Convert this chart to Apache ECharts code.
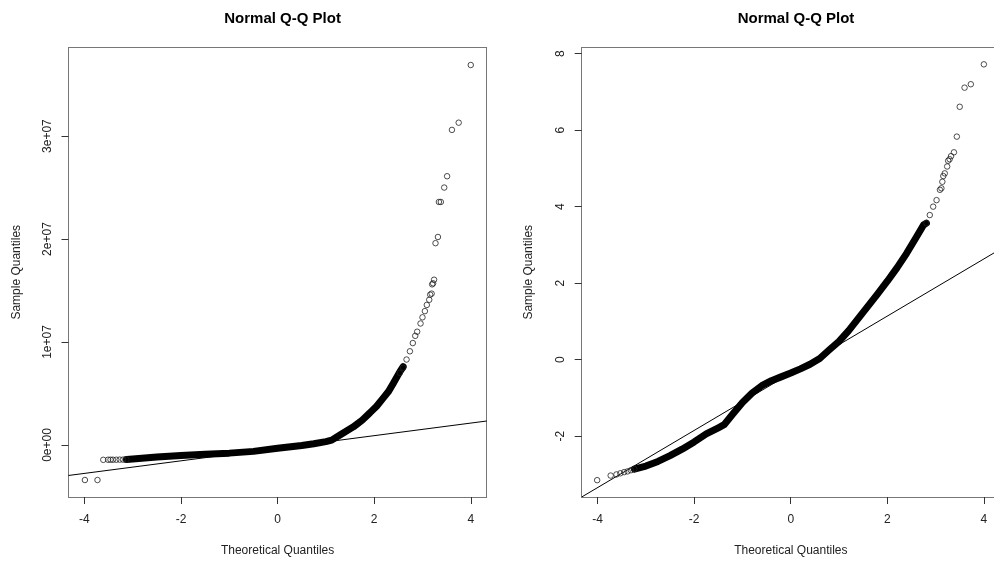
<!DOCTYPE html>
<html style="height: 100%">
<head>
    <meta charset="utf-8">
    <script src="https://cdn.jsdelivr.net/npm/echarts@6/dist/echarts.min.js"></script>
</head>
<body style="height: 100%; margin: 0; background: #fff">
<div id="container" style="width: 994px; height: 562px"></div>
<script type="text/javascript">
    // tick positions / labels
    var xTicks = [-4, -2, 0, 2, 4];
    var leftYTicks = [0, 1e7, 2e7, 3e7];
    var leftYLabels = ['0e+00', '1e+07', '2e+07', '3e+07'];
    var rightYTicks = [-2, 0, 2, 4, 6, 8];

    // left panel: individual circles (theoretical, sample)
    var leftPoints = [
        [-3.99, -3.40e6], [-3.73, -3.40e6], [-3.61, -1.44e6], [-3.51, -1.43e6], [-3.46, -1.43e6],
        [-3.41, -1.43e6], [-3.34, -1.43e6], [-3.27, -1.42e6], [-3.20, -1.42e6], [-3.13, -1.41e6],
        [2.53, 7.0e6], [2.60, 7.5e6], [2.67, 8.3e6], [2.74, 9.1e6], [2.80, 9.9e6], [2.85, 10.6e6],
        [2.89, 11.0e6], [2.96, 11.8e6], [3.00, 12.4e6], [3.05, 13.0e6], [3.09, 13.6e6], [3.14, 14.1e6],
        [3.16, 14.6e6], [3.19, 14.7e6], [3.20, 15.6e6], [3.22, 15.7e6], [3.24, 16.05e6], [3.27, 19.6e6],
        [3.32, 20.2e6], [3.34, 23.6e6], [3.38, 23.6e6], [3.45, 25.0e6], [3.51, 26.1e6], [3.61, 30.6e6],
        [3.75, 31.3e6], [4.00, 36.9e6]
    ];
    // left panel: the solid band where circles overlap
    var leftBand = [
        [-3.13, -1.41e6], [-3.0, -1.37e6], [-2.5, -1.17e6], [-2.0, -1.01e6], [-1.5, -0.89e6],
        [-1.0, -0.79e6], [-0.5, -0.62e6], [0, -0.32e6], [0.5, -0.05e6], [0.75, 0.12e6], [1.0, 0.33e6],
        [1.12, 0.47e6], [1.3, 1.0e6], [1.57, 1.76e6], [1.75, 2.41e6], [1.91, 3.12e6], [2.05, 3.77e6],
        [2.19, 4.58e6], [2.30, 5.22e6], [2.40, 6.03e6], [2.53, 7.1e6], [2.6, 7.6e6]
    ];
    var leftLine = [[-4.33, -2.96e6], [4.33, 2.33e6]];

    // right panel
    var rightPoints = [
        [-4.01, -3.15], [-3.73, -3.03], [-3.61, -3.00], [-3.53, -2.97], [-3.45, -2.94], [-3.38, -2.92],
        [-3.31, -2.89], [-3.24, -2.86],
        [2.81, 3.57], [2.88, 3.78], [2.95, 4.00], [3.02, 4.17], [3.09, 4.44], [3.12, 4.48], [3.14, 4.65],
        [3.16, 4.80], [3.19, 4.87], [3.24, 5.05], [3.26, 5.20], [3.29, 5.24], [3.32, 5.32], [3.38, 5.42],
        [3.44, 5.83], [3.50, 6.61], [3.60, 7.11], [3.73, 7.20], [4.00, 7.72]
    ];
    var rightBand = [
        [-3.24, -2.86], [-3.0, -2.78], [-2.75, -2.66], [-2.5, -2.51], [-2.25, -2.34], [-2.0, -2.15],
        [-1.75, -1.94], [-1.5, -1.78], [-1.38, -1.70], [-1.2, -1.42], [-1.0, -1.12], [-0.8, -0.87],
        [-0.6, -0.68], [-0.4, -0.55], [-0.2, -0.45], [0, -0.35], [0.2, -0.24], [0.4, -0.12], [0.6, 0.03],
        [0.8, 0.26], [1.0, 0.48], [1.2, 0.76], [1.4, 1.08], [1.6, 1.40], [1.8, 1.72], [2.0, 2.05],
        [2.2, 2.40], [2.4, 2.78], [2.6, 3.20], [2.75, 3.52], [2.81, 3.57]
    ];
    var rightLine = [[-4.33, -3.59], [4.21, 2.79]];

    var font = '"Liberation Sans", Arial, sans-serif';
    var txt = '#222';
    var boxColor = '#777';

    function xAxisOpt(idx, max, namePad) {
        return {
            gridIndex: idx, type: 'value', min: -4.33, max: max,
            name: 'Theoretical Quantiles', nameLocation: 'middle', nameGap: 48,
            nameTextStyle: {fontFamily: font, fontSize: 12, color: txt, padding: namePad},
            splitLine: {show: false},
            axisLine: {show: true, onZero: false, lineStyle: {color: boxColor, width: 1}},
            axisTick: {show: true, length: 7, customValues: xTicks, lineStyle: {color: '#333'}},
            axisLabel: {customValues: xTicks, margin: 17, fontFamily: font, fontSize: 12, color: txt}
        };
    }
    function yAxisOpt(idx, min, max, ticks, fmt, gap) {
        return {
            gridIndex: idx, type: 'value', min: min, max: max,
            name: 'Sample Quantiles', nameLocation: 'middle', nameGap: gap, nameRotate: 90,
            nameTextStyle: {fontFamily: font, fontSize: 12, color: txt},
            splitLine: {show: false},
            axisLine: {show: true, onZero: false, lineStyle: {color: boxColor, width: 1}},
            axisTick: {show: true, length: 7, customValues: ticks, lineStyle: {color: '#333'}},
            axisLabel: {customValues: ticks, rotate: 90, margin: 15, fontFamily: font, fontSize: 12,
                color: txt, formatter: fmt}
        };
    }
    // top / right edges of the box
    function edgeAxis(idx, position, min, max) {
        return {
            gridIndex: idx, type: 'value', position: position, min: min, max: max,
            splitLine: {show: false}, axisTick: {show: false}, axisLabel: {show: false},
            axisLine: {show: true, onZero: false, lineStyle: {color: boxColor, width: 1}}
        };
    }
    function circles(idx, data) {
        return {
            type: 'scatter', xAxisIndex: idx, yAxisIndex: idx, data: data, symbol: 'circle', symbolSize: 5.5,
            itemStyle: {color: 'rgba(0,0,0,0)', borderColor: '#222', borderWidth: 1}, z: 3
        };
    }
    function band(idx, data) {
        return {
            type: 'line', xAxisIndex: idx, yAxisIndex: idx, data: data, showSymbol: false,
            lineStyle: {color: '#000', width: 7, cap: 'round', join: 'round'}, z: 2
        };
    }
    function refLine(idx, data) {
        return {
            type: 'line', xAxisIndex: idx, yAxisIndex: idx, data: data, showSymbol: false,
            lineStyle: {color: '#000', width: 1}, z: 1
        };
    }

    var myChart = echarts.init(document.getElementById('container'));
    myChart.setOption({
        animation: false,
        title: [
            {text: 'Normal Q-Q Plot', left: 277.6, top: 6, textAlign: 'center',
                textStyle: {fontFamily: font, fontSize: 15, fontWeight: 'bold', color: '#000'}},
            {text: 'Normal Q-Q Plot', left: 791, top: 6, textAlign: 'center',
                textStyle: {fontFamily: font, fontSize: 15, fontWeight: 'bold', color: '#000'}}
        ],
        grid: [
            {left: 68.5, width: 418.2, top: 47.5, height: 450},
            {left: 581.7, right: 0, top: 47.5, height: 450}
        ],
        xAxis: [
            xAxisOpt(0, 4.33, [0, 0, 0, 0]), xAxisOpt(1, 4.21, [0, 0, 0, 6]),
            edgeAxis(0, 'top', -4.33, 4.33), edgeAxis(1, 'top', -4.33, 4.21)
        ],
        yAxis: [
            yAxisOpt(0, -5.05e6, 3.86e7, leftYTicks, function (v) {
                return leftYLabels[leftYTicks.indexOf(v)];
            }, 46),
            yAxisOpt(1, -3.59, 8.16, rightYTicks, function (v) { return String(v); }, 47),
            edgeAxis(0, 'right', -5.05e6, 3.86e7)
        ],
        series: [
            refLine(0, leftLine), band(0, leftBand), circles(0, leftPoints),
            refLine(1, rightLine), band(1, rightBand), circles(1, rightPoints)
        ]
    });
</script>
</body>
</html>
